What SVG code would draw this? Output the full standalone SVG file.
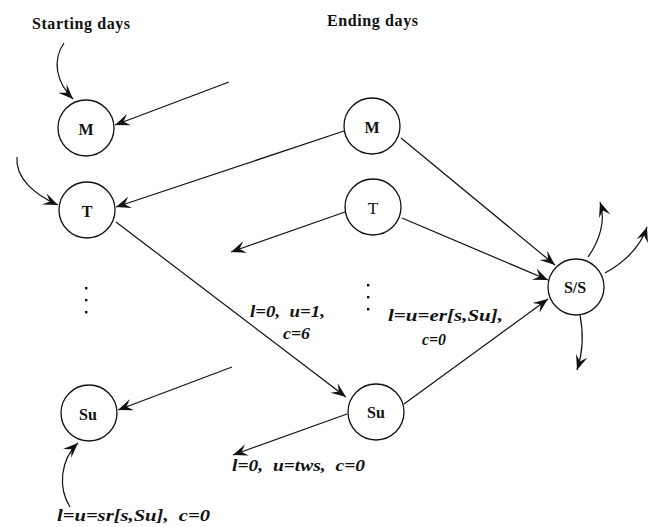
<svg xmlns="http://www.w3.org/2000/svg" width="654" height="527" viewBox="0 0 654 527">
  <defs>
    <marker id="arr" viewBox="-15 -7 16 14" refX="0" refY="0" markerWidth="16" markerHeight="14" markerUnits="userSpaceOnUse" orient="auto">
      <path d="M0,0 L-15,-6 L-9,0 L-15,6 Z" fill="#111"/>
    </marker>
  </defs>
  <style>
    .node circle { fill: #fff; stroke: #111; stroke-width: 1.3; }
    .lbl { font-family: "Liberation Serif", serif; font-weight: bold; font-size: 16px; fill: #111; text-anchor: middle; }
    .lblr { font-family: "Liberation Serif", serif; font-size: 17px; fill: #111; text-anchor: middle; }
    .title { font-family: "Liberation Serif", serif; font-weight: bold; font-size: 16px; fill: #111; }
    .edge { fill: none; stroke: #111; stroke-width: 1.2; marker-end: url(#arr); }
    .cap { font-family: "Liberation Serif", serif; font-style: italic; font-weight: bold; font-size: 17px; fill: #111; }
    .dot { fill: #111; }
  </style>
  <rect width="654" height="527" fill="#fff"/>

  <g id="titles">
    <text class="title" x="32" y="29" textLength="98">Starting days</text>
    <text class="title" x="327" y="26" textLength="91">Ending days</text>
  </g>

  <g id="connectors">
    <path class="edge" d="M64,43 C52,60 56,82 73,99"/>
    <path class="edge" d="M229,82 L115,125"/>
    <path class="edge" d="M17,157 C15,178 35,195 58,205"/>
    <path class="edge" d="M344,131 L116,207"/>
    <path class="edge" d="M116,222 L346,397"/>
    <path class="edge" d="M345,212 L231,252"/>
    <path class="edge" d="M401,138 L555,265"/>
    <path class="edge" d="M402,218 L548,280"/>
    <path class="edge" d="M404,404 L548,299"/>
    <path class="edge" d="M588,257 C600,240 606,220 600,202"/>
    <path class="edge" d="M605,273 C625,262 640,248 647,227"/>
    <path class="edge" d="M580,315 C584,335 583,352 577,370"/>
    <path class="edge" d="M232,367 L118,410"/>
    <path class="edge" d="M347,414 L233,455"/>
    <path class="edge" d="M70,507 C58,488 60,460 78,443"/>
  </g>

  <g id="node-start-M" class="node">
    <circle cx="86" cy="128" r="28"/>
    <text class="lbl" x="86" y="135">M</text>
  </g>
  <g id="node-start-T" class="node">
    <circle cx="87" cy="210" r="28"/>
    <text class="lbl" x="87" y="217">T</text>
  </g>
  <g id="node-start-Su" class="node">
    <circle cx="89" cy="413" r="28"/>
    <text class="lbl" x="88" y="420">Su</text>
  </g>
  <g id="node-end-M" class="node">
    <circle cx="372" cy="126" r="28"/>
    <text class="lbl" x="372" y="133">M</text>
  </g>
  <g id="node-end-T" class="node">
    <circle cx="373" cy="207" r="28"/>
    <text class="lblr" x="373" y="214">T</text>
  </g>
  <g id="node-end-Su" class="node">
    <circle cx="376" cy="412" r="28"/>
    <text class="lbl" x="376" y="418">Su</text>
  </g>
  <g id="node-SS" class="node">
    <circle cx="576" cy="287" r="28"/>
    <text class="lbl" x="575" y="293" font-size="18">S/S</text>
  </g>

  <g id="dots">
    <rect class="dot" x="85" y="287" width="2.4" height="2.4"/>
    <rect class="dot" x="85" y="299" width="2.4" height="2.4"/>
    <rect class="dot" x="85" y="311" width="2.4" height="2.4"/>
    <rect class="dot" x="367" y="284" width="2.4" height="2.4"/>
    <rect class="dot" x="367" y="296" width="2.4" height="2.4"/>
    <rect class="dot" x="367" y="308" width="2.4" height="2.4"/>
  </g>

  <g id="labels">
    <text class="cap" x="250" y="317" textLength="75" lengthAdjust="spacingAndGlyphs" xml:space="preserve">l=0,  u=1,</text>
    <text class="cap" x="283" y="339" textLength="27" lengthAdjust="spacingAndGlyphs">c=6</text>
    <text class="cap" x="388" y="321" textLength="115" lengthAdjust="spacingAndGlyphs">l=u=er[s,Su],</text>
    <text class="cap" x="422" y="345" textLength="24" lengthAdjust="spacingAndGlyphs">c=0</text>
    <text class="cap" x="232" y="471" textLength="133" lengthAdjust="spacingAndGlyphs" xml:space="preserve">l=0,  u=tws,  c=0</text>
    <text class="cap" x="57" y="521" textLength="153" lengthAdjust="spacingAndGlyphs" xml:space="preserve">l=u=sr[s,Su],  c=0</text>
  </g>
</svg>
